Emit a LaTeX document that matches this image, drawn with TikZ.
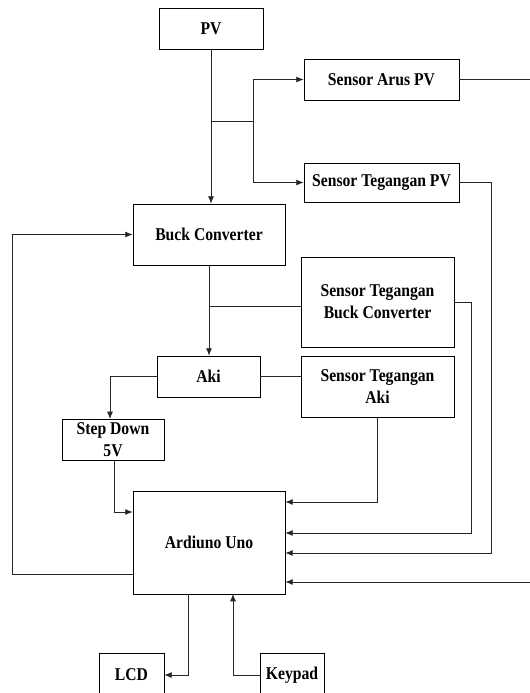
\documentclass[tikz,border=0pt]{standalone}
\usepackage{fontspec}
\setmainfont{Liberation Serif}[FakeStretch=0.87]
\usetikzlibrary{arrows.meta}
\begin{document}
\begin{tikzpicture}[x=0.75pt,y=-0.75pt,
  blk/.style={draw=black, line width=0.6pt, inner sep=0pt, align=center,
    font=\fontsize{13.5}{16.3}\selectfont\bfseries},
  wire/.style={line width=0.6pt, draw=black!85},
  arr/.style={wire, -{Latex[length=5.5pt,width=4.5pt]}}]
\useasboundingbox (0,0) rectangle (529,693);
\node[blk, minimum width=78pt, minimum height=30.75pt] (pv) at (211,28.5) {PV};
\node[blk, minimum width=116.25pt, minimum height=30.75pt] (sapv) at (381.5,79.5) {Sensor Arus PV};
\node[blk, minimum width=116.25pt, minimum height=29.25pt] (stpv) at (381.5,182.5) {Sensor Tegangan PV};
\node[blk, minimum width=114pt, minimum height=45.75pt] (buck) at (209,234.5) {Buck Converter};
\node[blk, minimum width=114.75pt, minimum height=67.5pt] (stbc) at (377.5,302) {Sensor Tegangan\\Buck Converter};
\node[blk, minimum width=77.25pt, minimum height=30.75pt] (aki) at (208.5,376.5) {Aki};
\node[blk, minimum width=114.75pt, minimum height=45.75pt] (sta) at (377.5,386.5) {Sensor Tegangan\\Aki};
\node[blk, minimum width=76.5pt, minimum height=30.75pt] (sd) at (113,439.5) {Step Down\\5V};
\node[blk, minimum width=114pt, minimum height=77.25pt] (ard) at (209,542.5) {Ardiuno Uno};
\node[blk, minimum width=48.75pt, minimum height=33pt] (lcd) at (131.5,675) {LCD};
\node[blk, minimum width=48pt, minimum height=33pt] (kp) at (292,675) {Keypad};
% PV to buck and sensors
\draw[arr] (pv.south) -- (pv.south |- buck.north);
\coordinate (j1) at (211,121);
\coordinate (b1) at (253,121);
\draw[wire] (j1) -- (b1);
\draw[arr] (b1) |- (sapv.west);
\draw[arr] (b1) |- (stpv.west);
% sensor lines to arduino
\coordinate (ra) at (532,582);
\draw[arr] (sapv.east) -| (ra) -- (ra -| ard.east);
\coordinate (rb) at (491,553);
\draw[arr] (stpv.east) -| (rb) -- (rb -| ard.east);
\coordinate (rc) at (471,533);
\draw[arr] (stbc.east) -| (rc) -- (rc -| ard.east);
\coordinate (rd) at (377.5,502);
\draw[arr] (sta.south) -- (rd) -- (rd -| ard.east);
% buck to aki
\draw[arr] (buck.south) -- (buck.south |- aki.north);
\coordinate (j2) at (209,306);
\draw[wire] (j2) -- (j2 -| stbc.west);
\draw[wire] (aki.east) -- (aki.east -| sta.west);
% aki to step down
\coordinate (sdt) at (110,419);
\draw[arr] (aki.west) -| (sdt);
\coordinate (sdb) at (114,460);
\coordinate (sdc) at (114,512);
\draw[arr] (sdb) -- (sdc) -- (sdc -| ard.west);
% feedback to buck
\coordinate (fa) at (133,574);
\coordinate (fb) at (12,574);
\draw[arr] (fa) -- (fb) |- (buck.west);
% LCD and keypad
\coordinate (la) at (188,594);
\draw[arr] (la) |- (lcd.east);
\coordinate (ka) at (233,594);
\draw[arr] (kp.west) -| (ka);
\end{tikzpicture}
\end{document}
